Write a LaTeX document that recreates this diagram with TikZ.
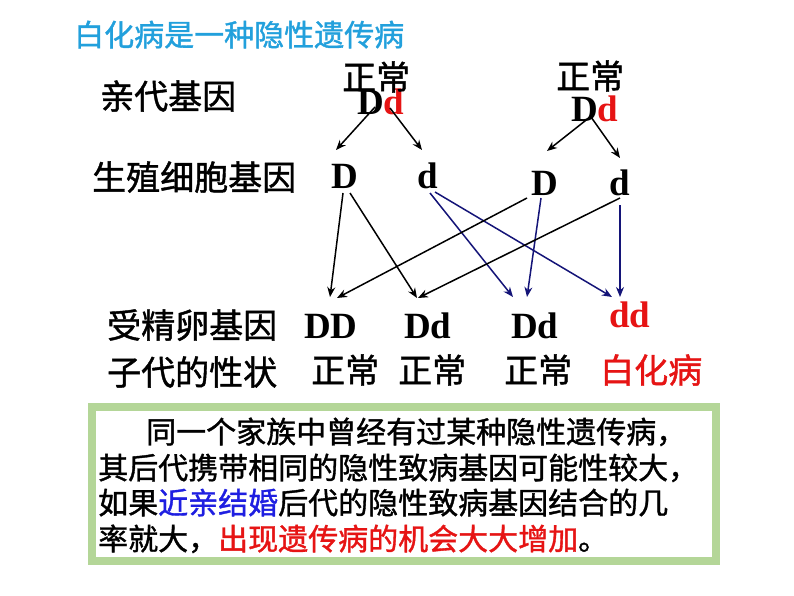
\documentclass[tikz,border=0pt]{standalone}
\usepackage{fontspec}
\usetikzlibrary{arrows.meta}
\newfontfamily\cjk[FakeBold=1.2]{Noto Sans CJK SC}
\newfontfamily\gene{Liberation Serif}
\definecolor{titleblue}{RGB}{34,160,220}
\definecolor{genered}{RGB}{230,20,20}
\definecolor{navy}{RGB}{20,20,120}
\definecolor{wordblue}{RGB}{30,30,225}
\definecolor{boxgreen}{RGB}{180,214,152}
\tikzset{
  lbl/.style={anchor=base west,inner sep=0pt,font=\cjk\fontsize{34}{40}\selectfont},
  boxtxt/.style={anchor=base west,inner sep=0pt,font=\cjk\fontsize{30}{36}\selectfont},
  gn/.style={anchor=base west,inner sep=0pt,font=\gene\bfseries\fontsize{37}{44}\selectfont},
  arr/.style={line width=1.5pt,-{Stealth[length=10pt,width=8pt]}},
  arrb/.style={arr,draw=navy,color=navy},
}
\begin{document}
\begin{tikzpicture}[x=1pt,y=-1pt]
\useasboundingbox (0,0) rectangle (794,596);
\fill[white] (0,0) rectangle (794,596);
% title and row labels
\node[boxtxt,text=titleblue] (title) at (74,46) {白化病是一种隐性遗传病};
\node[lbl] (l1) at (100,109) {亲代基因};
\node[lbl] (l2) at (92,190) {生殖细胞基因};
\node[lbl] (l3) at (107,338) {受精卵基因};
\node[lbl] (l4) at (107,385) {子代的性状};
% parents
\node[gn] (p1) at (357,115) {D\textcolor{genered}{d}};
\node[gn] (p2) at (571,122) {D\textcolor{genered}{d}};
\node[lbl] (n1) at (342,90) {正常};
\node[lbl] (n2) at (556,89) {正常};
% gametes
\node[gn] (g1) at (331,188) {D};
\node[gn] (g2) at (417,188) {d};
\node[gn] (g3) at (531,195) {D};
\node[gn] (g4) at (609,195) {d};
% offspring
\node[gn] (o1) at (304,338) {DD};
\node[gn] (o2) at (404,338) {Dd};
\node[gn] (o3) at (511,338) {Dd};
\node[gn,text=genered] (o4) at (609,327) {dd};
% phenotypes
\node[lbl] (f1) at (311,383) {正常};
\node[lbl] (f2) at (398,383) {正常};
\node[lbl] (f3) at (504,383) {正常};
\node[lbl,text=genered] (f4) at (600,383) {白化病};
% parent -> gametes
\draw[arr] ([shift={(18,-8)}]p1.base west) -- ([shift={(5,-38)}]g1.base west);
\draw[arr] ([shift={(33,-7)}]p1.base west) -- ([shift={(5,-38)}]g2.base west);
\draw[arr] ([shift={(19,-5)}]p2.base west) -- ([shift={(16,-44)}]g3.base west);
\draw[arr] ([shift={(20,-5)}]p2.base west) -- ([shift={(11,-37)}]g4.base west);
% gametes -> offspring
\draw[arr] ([shift={(12,5)}]g1.base west) -- ([shift={(26,-41)}]o1.base west);
\draw[arr] ([shift={(19,5)}]g1.base west) -- ([shift={(13,-40)}]o2.base west);
\draw[arrb] ([shift={(13,5)}]g2.base west) -- ([shift={(2,-41)}]o3.base west);
\draw[arrb] ([shift={(18,4)}]g2.base west) -- ([shift={(3,-30)}]o4.base west);
\draw[arr] ([shift={(-4,3)}]g3.base west) -- ([shift={(33,-40)}]o1.base west);
\draw[arrb] ([shift={(10,3)}]g3.base west) -- ([shift={(16,-41)}]o3.base west);
\draw[arr] ([shift={(11,3)}]g4.base west) -- ([shift={(14,-40)}]o2.base west);
\draw[arrb] ([shift={(11,10)}]g4.base west) -- ([shift={(11,-30)}]o4.base west);
% explanation box
\draw[boxgreen,line width=8pt,fill=white] (92,407) rectangle (716,561);
\node[boxtxt] (t1) at (146,443) {同一个家族中曾经有过某种隐性遗传病，};
\node[boxtxt] (t2) at (98,479) {其后代携带相同的隐性致病基因可能性较大，};
\node[boxtxt] (t3) at (98,514) {如果\textcolor{wordblue}{近亲结婚}后代的隐性致病基因结合的几};
\node[boxtxt] (t4) at (98,550) {率就大，\textcolor{genered}{出现遗传病的机会大大增加}。};
\end{tikzpicture}
\end{document}
